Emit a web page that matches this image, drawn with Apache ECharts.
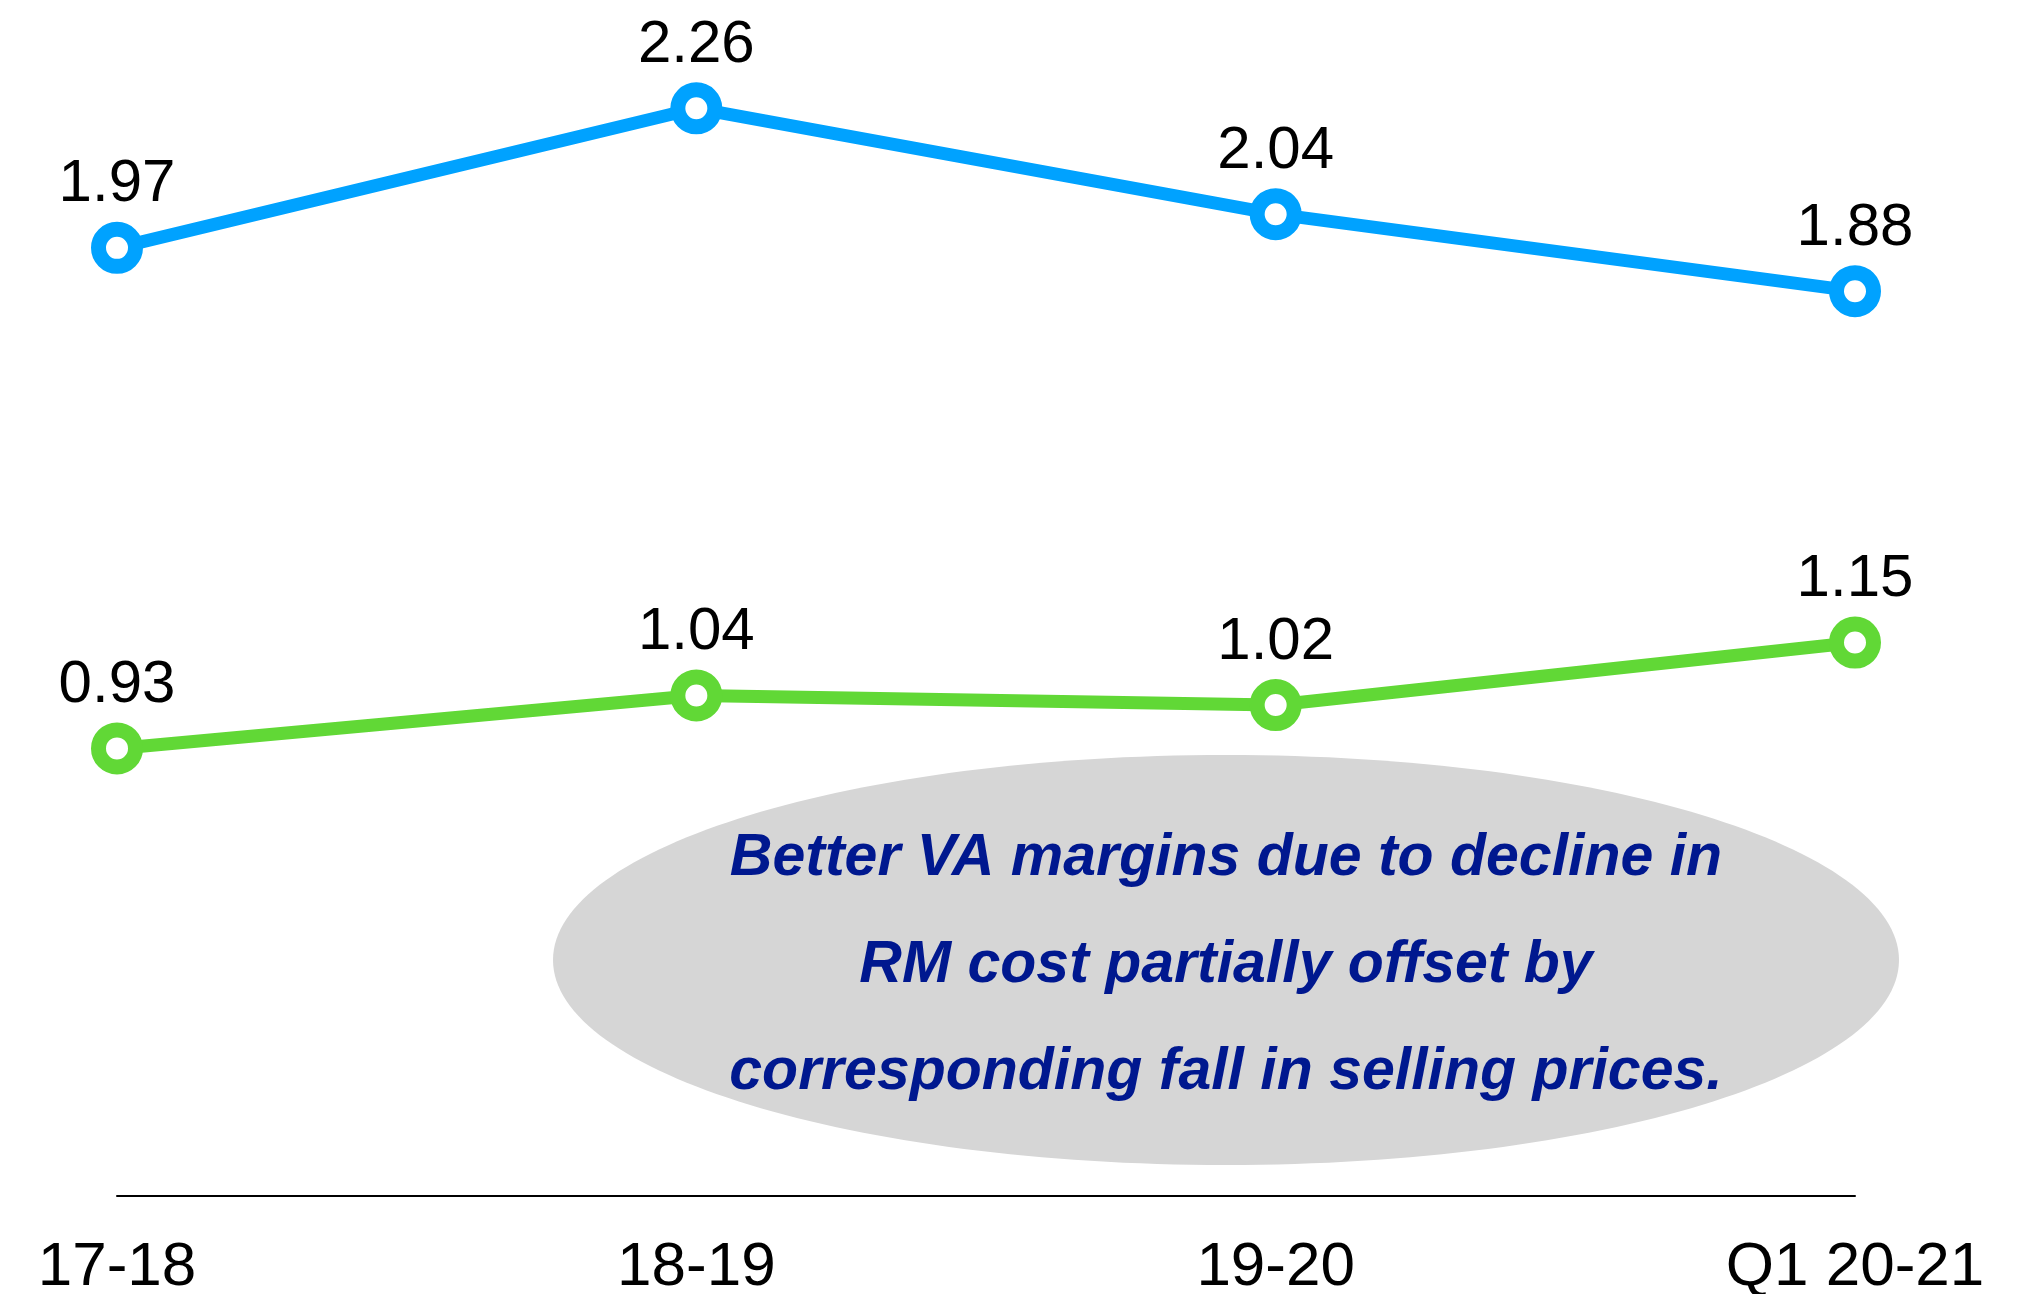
<!DOCTYPE html>
<html>
<head>
<meta charset="utf-8">
<script src="https://cdn.jsdelivr.net/npm/echarts@6/dist/echarts.min.js"></script>
<style>
  html, body { margin: 0; padding: 0; background: #fff; }
  #chart { width: 2034px; height: 1294px; }
</style>
</head>
<body>
<div id="chart"></div>
<script>
const categories = ["17-18", "18-19", "19-20", "Q1 20-21"]
const blueValues = [1.97, 2.26, 2.04, 1.88]
const greenValues = [0.93, 1.04, 1.02, 1.15]
const noteLines = [
  "Better VA margins due to decline in",
  "RM cost partially offset by",
  "corresponding fall in selling prices.",
]

const FONT = "'Liberation Sans', Arial, Helvetica, sans-serif"

function lineSeries(name, values, color) {
  return {
    name,
    type: "line",
    data: values,
    symbol: "circle",
    symbolSize: 37,
    lineStyle: { color, width: 13 },
    itemStyle: { color: "#fff", borderColor: color, borderWidth: 15 },
    label: {
      show: true,
      position: "top",
      distance: 7,
      color: "#000",
      fontFamily: FONT,
      fontSize: 60,
      formatter: (p) => p.value.toFixed(2),
    },
    z: 3,
  }
}

const chart = echarts.init(document.getElementById("chart"))
chart.setOption({
  animation: false,
  grid: { left: 117, right: 179, top: 0, bottom: 98, outerBoundsMode: "none", containLabel: false },
  xAxis: {
    type: "category",
    data: categories,
    boundaryGap: false,
    axisLine: { lineStyle: { color: "#000", width: 2 } },
    axisTick: { show: false },
    axisLabel: {
      color: "#000",
      fontFamily: FONT,
      fontSize: 62,
      margin: 41,
    },
  },
  yAxis: {
    type: "value",
    min: 0,
    max: 2.485,
    show: false,
    splitLine: { show: false },
  },
  graphic: [
    {
      type: "ellipse",
      shape: { cx: 1226, cy: 960, rx: 673, ry: 205 },
      style: { fill: "#d6d6d6" },
      z: 1,
    },
    ...noteLines.map((t, i) => ({
      type: "text",
      x: 1226,
      y: 859 + i * 107,
      style: {
        text: t,
        fill: "#00188f",
        font: "italic bold 59px " + FONT,
        textAlign: "center",
        textVerticalAlign: "middle",
      },
      z: 2,
    })),
  ],
  series: [
    lineSeries("blue", blueValues, "#00a2ff"),
    lineSeries("green", greenValues, "#61d836"),
  ],
})
</script>
</body>
</html>
